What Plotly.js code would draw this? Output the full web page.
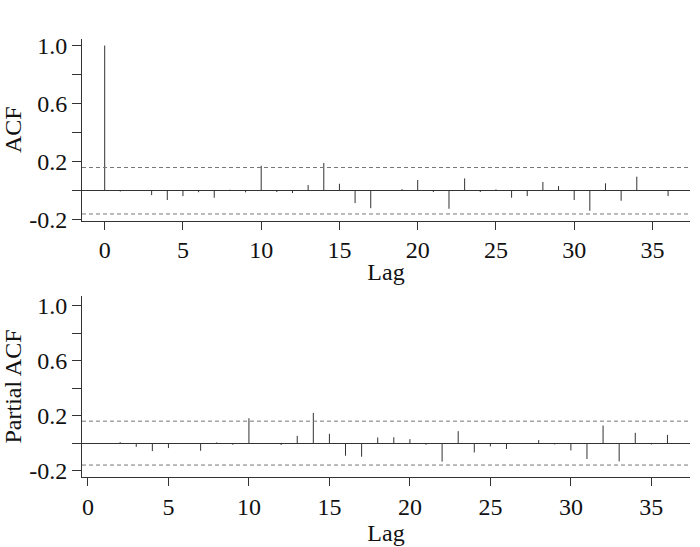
<!DOCTYPE html>
<html>
<head>
<meta charset="utf-8">
<script src="https://cdn.plot.ly/plotly-3.0.1.min.js"></script>
<style>
  html, body { margin: 0; padding: 0; background: #fff; }
  #acf { width: 700px; height: 547px; }
</style>
</head>
<body>
<div id="acf"></div>
<script>
// lags 0..36
var lags = [0, 1, 2, 3, 4, 5, 6, 7, 8, 9, 10, 11, 12, 13, 14, 15, 16, 17, 18,
  19, 20, 21, 22, 23, 24, 25, 26, 27, 28, 29, 30, 31, 32, 33, 34, 35, 36];

var acfValues = [1.0, -0.005, 0.0, -0.03, -0.064, -0.037, -0.01, -0.048, 0.007, -0.011,
  0.172, -0.009, -0.016, 0.039, 0.191, 0.048, -0.085, -0.12, 0.0,
  0.011, 0.074, -0.009, -0.124, 0.085, -0.009, 0.009, -0.048, -0.037, 0.06,
  0.032, -0.064, -0.138, 0.051, -0.069, 0.097, 0.0, -0.037];

// pacf has no lag 0 value
var pacfLags = lags.slice(1);
var pacfValues = [0.0, 0.007, -0.027, -0.058, -0.036, 0.0, -0.056, 0.005, -0.012,
  0.181, 0.0, -0.014, 0.053, 0.22, 0.068, -0.092, -0.099, 0.041,
  0.043, 0.029, -0.012, -0.135, 0.087, -0.068, -0.024, -0.043, 0.0, 0.022,
  -0.01, -0.053, -0.116, 0.128, -0.133, 0.075, -0.01, 0.06];

var confBound = 0.16;

var xTickVals = [0, 5, 10, 15, 20, 25, 30, 35];
var yTickVals = [-0.2, 0, 0.2, 0.4, 0.6, 0.8, 1.0];
var yTickText = ["-0.2", "", "0.2", "", "0.6", "", "1.0"];

// vertical spikes from 0 up/down to each value
function spikes(xs, ys) {
  var px = [], py = [];
  xs.forEach(function (x, i) {
    px.push(x, x, null);
    py.push(0, ys[i], null);
  });
  return { x: px, y: py };
}

var acfLines = spikes(lags, acfValues);
var pacfLines = spikes(pacfLags, pacfValues);

var font = { family: "Liberation Serif", size: 24, color: "#111" };

var data = [
  {
    x: acfLines.x, y: acfLines.y, xaxis: "x", yaxis: "y",
    mode: "lines", line: { color: "#333", width: 1 }, hoverinfo: "skip"
  },
  {
    x: pacfLines.x, y: pacfLines.y, xaxis: "x2", yaxis: "y2",
    mode: "lines", line: { color: "#333", width: 1 }, hoverinfo: "skip"
  }
];

function xAxis(range, anchor) {
  return {
    anchor: anchor,
    range: range,
    tickvals: xTickVals,
    ticks: "outside", ticklen: 8, tickcolor: "#333", tickwidth: 1,
    showline: true, linecolor: "#333", linewidth: 1,
    showgrid: false, zeroline: false,
    tickfont: font,
    title: { text: "Lag", font: font, standoff: 0 }
  };
}

function yAxis(range, domain, anchor, title) {
  return {
    anchor: anchor,
    domain: domain,
    range: range,
    tickvals: yTickVals,
    ticktext: yTickText,
    ticks: "outside", ticklen: 9, tickcolor: "#333", tickwidth: 1,
    showline: true, linecolor: "#333", linewidth: 1,
    showgrid: false,
    zeroline: true, zerolinecolor: "#333", zerolinewidth: 1,
    tickfont: font,
    title: { text: title, font: font, standoff: 0 }
  };
}

function bound(xref, yref, v) {
  return {
    type: "line", xref: xref, yref: yref,
    x0: 0, x1: 1, y0: v, y1: v,
    line: { color: "#777", width: 1, dash: "4px,3px" }
  };
}

var layout = {
  width: 700,
  height: 547,
  margin: { l: 82, r: 10, t: 39, b: 70 },
  paper_bgcolor: "#fff",
  plot_bgcolor: "#fff",
  showlegend: false,
  font: font,
  xaxis: xAxis([-1.45, 37.4], "y"),
  yaxis: yAxis([-0.205, 1.045], [0.5856, 1], "x", "ACF"),
  xaxis2: xAxis([-0.37, 37.4], "y2"),
  yaxis2: yAxis([-0.247, 1.072], [0, 0.4132], "x2", "Partial ACF"),
  shapes: [
    bound("x domain", "y", confBound),
    bound("x domain", "y", -confBound),
    bound("x2 domain", "y2", confBound),
    bound("x2 domain", "y2", -confBound)
  ]
};

Plotly.newPlot("acf", data, layout, { displayModeBar: false, staticPlot: true });
</script>
</body>
</html>
